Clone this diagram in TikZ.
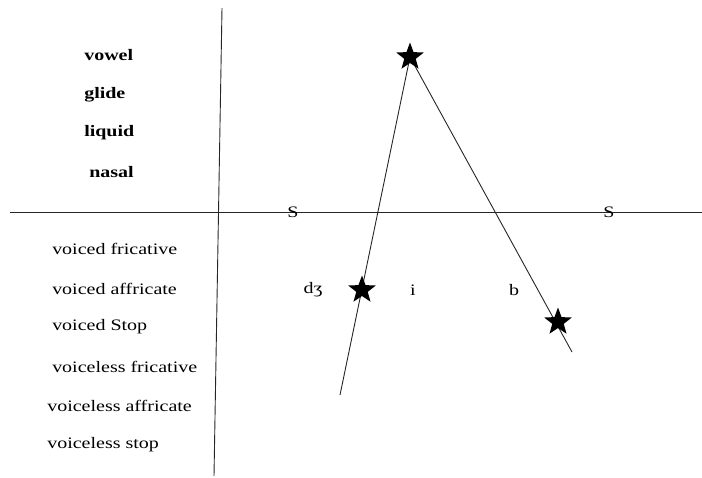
\documentclass[tikz,border=0pt]{standalone}
\usepackage{fontspec}
\setmainfont{Liberation Serif}
\usepackage{tikz}
\usetikzlibrary{shapes.geometric}
\tikzset{
  axis/.style={line width=0.9pt, black!85},
  trace/.style={line width=0.9pt, black!85},
  cls/.style={anchor=west, font=\fontsize{16}{19}\selectfont, xscale=1.25, inner sep=0pt},
  clsb/.style={cls, font=\fontsize{16}{19}\selectfont\bfseries},
  seg/.style={font=\fontsize{16}{19}\selectfont, xscale=1.25, inner sep=0pt},
  pk/.style={star, star points=5, star point ratio=2.4, fill=black, draw=none,
    minimum size=29pt, inner sep=0pt}
}
\begin{document}
\begin{tikzpicture}[x=1pt, y=-1pt]
  \useasboundingbox (0,0) rectangle (702,477);
  % axes
  \coordinate (vtop) at (222,8);
  \coordinate (vbot) at (214,476);
  \coordinate (hl) at (10,212);
  \coordinate (hr) at (702,212);
  \draw[axis] (vtop) -- (vbot);
  \draw[axis] (hl) -- (hr);
  % sonority classes
  \node[clsb] (vowel) at (84,55) {vowel};
  \node[clsb] (glide) at (84,95) {glide};
  \node[clsb] (liquid) at (84,133) {liquid};
  \node[clsb] (nasal) at (89,172) {nasal};
  \node[cls] (vfric) at (52,249) {voiced fricative};
  \node[cls] (vaffr) at (52,289) {voiced affricate};
  \node[cls] (vstop) at (52,327) {voiced Stop};
  \node[cls] (vlfric) at (52,367) {voiceless fricative};
  \node[cls] (vlaffr) at (47,406) {voiceless affricate};
  \node[cls] (vlstop) at (47,445) {voiceless stop};
  % syllable boundaries and segments
  \node[seg] (s1) at (293,212) {S};
  \node[seg] (s2) at (609,212) {S};
  \node[seg] (dzh) at (313,290) {dʒ};
  \node[seg] (ii) at (413,290) {i};
  \node[seg] (bb) at (514,290) {b};
  % sonority profile
  \coordinate (pi) at (410,57);
  \coordinate (endl) at (340,395);
  \coordinate (endr) at (572,352);
  \draw[trace] (pi) -- (endl);
  \draw[trace] (pi) -- (endr);
  \node[pk] (peak) at (pi) {};
  \node[pk] (onset) at (362,290) {};
  \node[pk] (coda) at (558,322) {};
\end{tikzpicture}
\end{document}
